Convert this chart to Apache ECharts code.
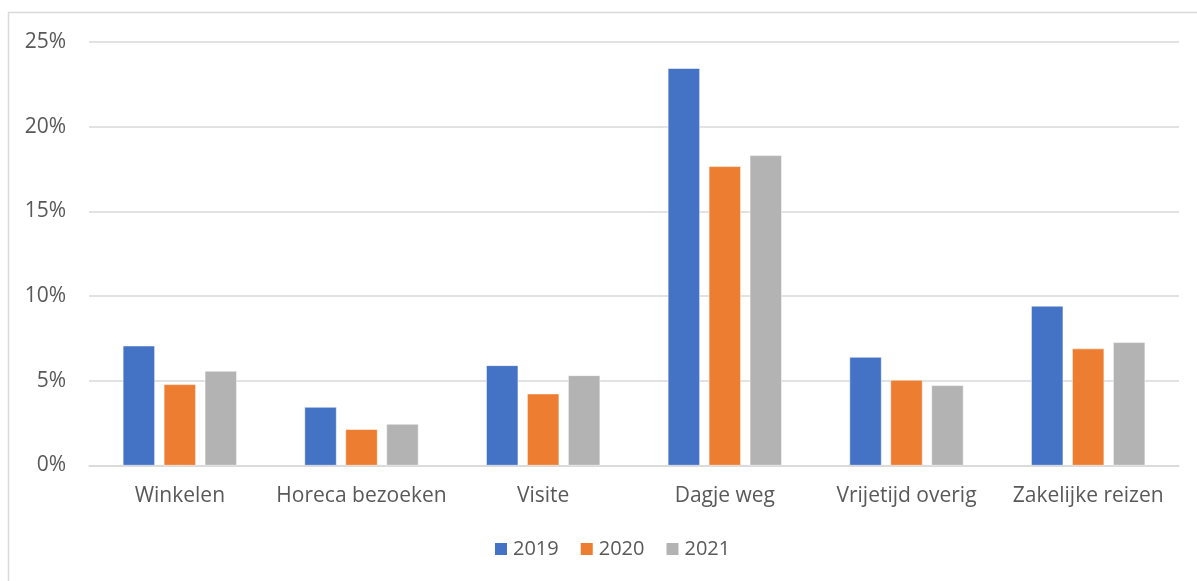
<!DOCTYPE html>
<html>
<head>
<meta charset="utf-8">
<script src="https://cdn.jsdelivr.net/npm/echarts@6/dist/echarts.min.js"></script>
<style>
html,body{margin:0;padding:0;background:#fff;}
#chart{width:1197px;height:581px;}
</style>
</head>
<body>
<div id="chart"></div>
<script>
const categories = ['Winkelen', 'Horeca bezoeken', 'Visite', 'Dagje weg', 'Vrijetijd overig', 'Zakelijke reizen'];
const years = ['2019', '2020', '2021'];
const values2019 = [7.07, 3.45, 5.91, 23.45, 6.40, 9.42];
const values2020 = [4.79, 2.14, 4.24, 17.66, 5.05, 6.90];
const values2021 = [5.58, 2.45, 5.32, 18.31, 4.73, 7.27];
const colors = ['#4472C4', '#ED7D31', '#B3B3B3'];

const font = '"Open Sans", "Noto Sans", sans-serif';
const chart = echarts.init(document.getElementById('chart'), null, {renderer: 'canvas'});
const seriesData = [values2019, values2020, values2021];
chart.setOption({
  animation: false,
  backgroundColor: '#fff',
  color: colors,
  graphic: [{
    type: 'rect', silent: true, z: -1,
    shape: {x: 8.5, y: 12.5, width: 1400, height: 800},
    style: {fill: 'none', stroke: '#D9D9D9', lineWidth: 1.5}
  }],
  grid: {left: 89, right: 18, top: 42, bottom: 115.5, containLabel: false},
  legend: {
    data: years, left: 493, top: 539, padding: 0,
    itemWidth: 14, itemHeight: 14, itemGap: 20,
    icon: 'rect',
    textStyle: {color: '#595959', fontSize: 20, fontFamily: font}
  },
  xAxis: {
    type: 'category', data: categories,
    axisLine: {lineStyle: {color: '#D9D9D9', width: 1.5}},
    axisTick: {show: false},
    axisLabel: {color: '#595959', fontSize: 21, fontFamily: font, margin: 20, interval: 0}
  },
  yAxis: {
    type: 'value', min: 0, max: 25, interval: 5,
    axisLine: {show: false}, axisTick: {show: false},
    splitLine: {lineStyle: {color: '#D9D9D9', width: 1.5}},
    axisLabel: {color: '#595959', fontSize: 21, fontFamily: font, margin: 23, formatter: v => v + '%'}
  },
  series: years.map((y, i) => ({
    name: y, type: 'bar', data: seriesData[i],
    barWidth: 32, barGap: '28%',
    itemStyle: {color: colors[i], borderColor: '#fff', borderWidth: 0.5}
  }))
});
</script>
</body>
</html>
